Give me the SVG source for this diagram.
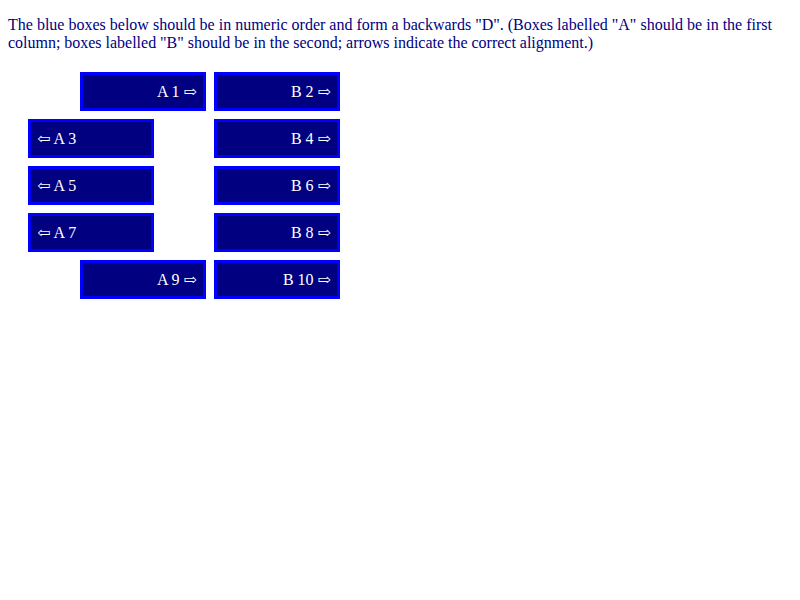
<svg xmlns="http://www.w3.org/2000/svg" width="800" height="600" viewBox="0 0 800 600">
<style>
.hdr{font-family:"Liberation Serif","DejaVu Serif",serif;font-size:16px;fill:#000080}
.box rect{fill:#000080;stroke:#0000ff;stroke-width:3}
.box text{font-family:"Liberation Serif","DejaVu Serif",serif;font-size:16px;fill:#ffffff}
.r{text-anchor:end}
</style>
<rect width="800" height="600" fill="#ffffff"/>
<text class="hdr" x="8" y="30" textLength="764" lengthAdjust="spacing">The blue boxes below should be in numeric order and form a backwards "D". (Boxes labelled "A" should be in the first</text>
<text class="hdr" x="8" y="48" textLength="585" lengthAdjust="spacing">column; boxes labelled "B" should be in the second; arrows indicate the correct alignment.)</text>
<g id="connectors"></g>
<g id="a1" class="box"><rect x="81.5" y="73.5" width="123" height="36"/><text class="r" x="197" y="97">A 1 ⇨</text></g>
<g id="b2" class="box"><rect x="215.5" y="73.5" width="123" height="36"/><text class="r" x="331" y="97">B 2 ⇨</text></g>
<g id="a3" class="box"><rect x="29.5" y="120.5" width="123" height="36"/><text x="37" y="144">⇦ A 3</text></g>
<g id="b4" class="box"><rect x="215.5" y="120.5" width="123" height="36"/><text class="r" x="331" y="144">B 4 ⇨</text></g>
<g id="a5" class="box"><rect x="29.5" y="167.5" width="123" height="36"/><text x="37" y="191">⇦ A 5</text></g>
<g id="b6" class="box"><rect x="215.5" y="167.5" width="123" height="36"/><text class="r" x="331" y="191">B 6 ⇨</text></g>
<g id="a7" class="box"><rect x="29.5" y="214.5" width="123" height="36"/><text x="37" y="238">⇦ A 7</text></g>
<g id="b8" class="box"><rect x="215.5" y="214.5" width="123" height="36"/><text class="r" x="331" y="238">B 8 ⇨</text></g>
<g id="a9" class="box"><rect x="81.5" y="261.5" width="123" height="36"/><text class="r" x="197" y="285">A 9 ⇨</text></g>
<g id="b10" class="box"><rect x="215.5" y="261.5" width="123" height="36"/><text class="r" x="331" y="285">B 10 ⇨</text></g>
</svg>
